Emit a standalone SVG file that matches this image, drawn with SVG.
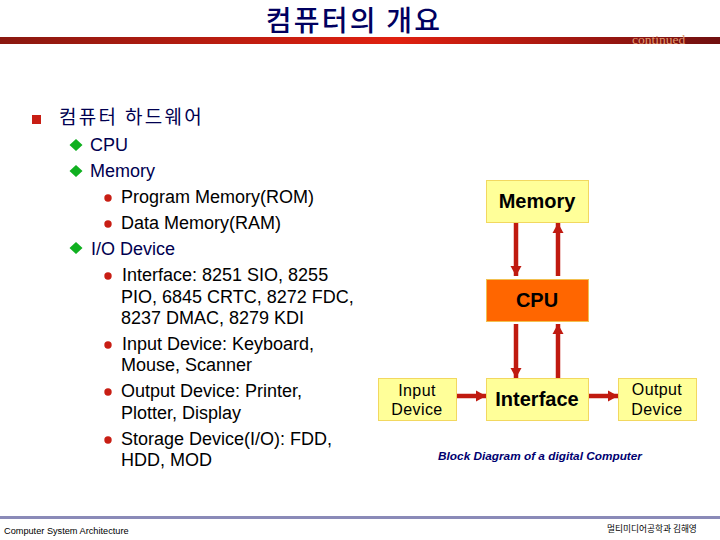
<svg xmlns="http://www.w3.org/2000/svg" width="720" height="540" viewBox="0 0 720 540">
<style>
text{font-family:"Liberation Sans","Noto Sans CJK KR",sans-serif}
.kr{font-family:"Noto Sans CJK KR","Liberation Sans",sans-serif}
.l1{font-size:18px;fill:#000050}
.l2{font-size:18px;fill:#000000}
.box{fill:#ffff99;stroke:#f2d860;stroke-width:1}
.b{font-weight:bold;font-size:20px;fill:#000;text-anchor:middle}
.m{font-size:16px;fill:#000;text-anchor:middle;letter-spacing:.4px}
.ln{stroke:#c01a10;stroke-width:4.500;fill:none;marker-end:url(#a)}
.dot{fill:#c81e14}
.dia{fill:#10b020}
</style>
<defs>
<linearGradient id="g" x1="0" x2="1" y1="0" y2="0"><stop offset="0" stop-color="#8a1810"/><stop offset=".55" stop-color="#e02010"/><stop offset="1" stop-color="#701010"/></linearGradient>
<marker id="a" markerUnits="userSpaceOnUse" markerWidth="12" markerHeight="12" refX="10" refY="6" orient="auto"><path d="M0 0.500L10 6L0 11.500z" fill="#c01a10"/></marker>
</defs>
<rect x="0" y="37" width="720" height="7" fill="url(#g)"/>
<text class="kr" x="354" y="31" font-size="28" font-weight="500" fill="#000060" text-anchor="middle" letter-spacing="2.2">컴퓨터의 개요</text>
<text x="632" y="44" font-size="13.500" fill="#e09a70" style="font-family:'Liberation Serif',serif">continued</text>
<rect x="32" y="115" width="9" height="9" fill="#c81e14"/>
<text class="kr" x="59" y="124" font-size="19" fill="#000050" letter-spacing="2.3">컴퓨터 하드웨어</text>
<g id="outline">
<path class="dia" d="M76 139l6.500 6-6.500 6-6.500-6zM76 165l6.500 6-6.500 6-6.500-6zM76 242l6.500 6-6.500 6-6.500-6z"/>
<circle class="dot" cx="108" cy="198" r="3.700"/><circle class="dot" cx="108" cy="224" r="3.700"/><circle class="dot" cx="108" cy="276" r="3.700"/><circle class="dot" cx="108" cy="345" r="3.700"/><circle class="dot" cx="108" cy="392" r="3.700"/><circle class="dot" cx="108" cy="440" r="3.700"/>
<text class="l1" x="90" y="151">CPU</text>
<text class="l1" x="90" y="177">Memory</text>
<text class="l2" x="121" y="203">Program Memory(ROM)</text>
<text class="l2" x="121" y="229">Data Memory(RAM)</text>
<text class="l1" x="91" y="255">I/O Device</text>
<text class="l2" x="122" y="281">Interface: 8251 SIO, 8255</text>
<text class="l2" x="121" y="303">PIO, 6845 CRTC, 8272 FDC,</text>
<text class="l2" x="121" y="324">8237 DMAC, 8279 KDI</text>
<text class="l2" x="122" y="350">Input Device: Keyboard,</text>
<text class="l2" x="121" y="371">Mouse, Scanner</text>
<text class="l2" x="121" y="397">Output Device: Printer,</text>
<text class="l2" x="121" y="419">Plotter, Display</text>
<text class="l2" x="121" y="445">Storage Device(I/O): FDD,</text>
<text class="l2" x="121" y="466">HDD, MOD</text>
</g>
<g id="connectors">
<line class="ln" x1="516" y1="222" x2="516" y2="276"/>
<line class="ln" x1="558" y1="276" x2="558" y2="223"/>
<line class="ln" x1="516" y1="324" x2="516" y2="378"/>
<line class="ln" x1="558" y1="378" x2="558" y2="324"/>
<line class="ln" x1="456" y1="396" x2="486" y2="396"/>
<line class="ln" x1="588" y1="396" x2="618" y2="396"/>
</g>
<g id="memory"><rect class="box" x="486.500" y="180.500" width="102" height="42"/><text class="b" x="537" y="208">Memory</text></g>
<g id="cpu"><rect x="486.500" y="279.500" width="102" height="42" fill="#ff6600" stroke="#f2c050"/><text class="b" x="537" y="307">CPU</text></g>
<g id="interface"><rect class="box" x="486.500" y="378.500" width="102" height="42"/><text class="b" x="537" y="406">Interface</text></g>
<g id="input"><rect class="box" x="378.500" y="378.500" width="78" height="42"/><text class="m" x="417" y="396">Input</text><text class="m" x="417" y="415">Device</text></g>
<g id="output"><rect class="box" x="618.500" y="378.500" width="78" height="42"/><text class="m" x="657" y="395">Output</text><text class="m" x="657" y="415">Device</text></g>
<text x="540" y="460" font-size="11.800" font-weight="bold" font-style="italic" fill="#000070" text-anchor="middle">Block Diagram of a digital Computer</text>
<rect x="0" y="516" width="720" height="3" fill="#8a8ab8"/>
<text x="4" y="534" font-size="9.200" fill="#000">Computer System Architecture</text>
<text class="kr" x="607" y="532" font-size="8.700" fill="#000">멀티미디어공학과 김해영</text>
</svg>
